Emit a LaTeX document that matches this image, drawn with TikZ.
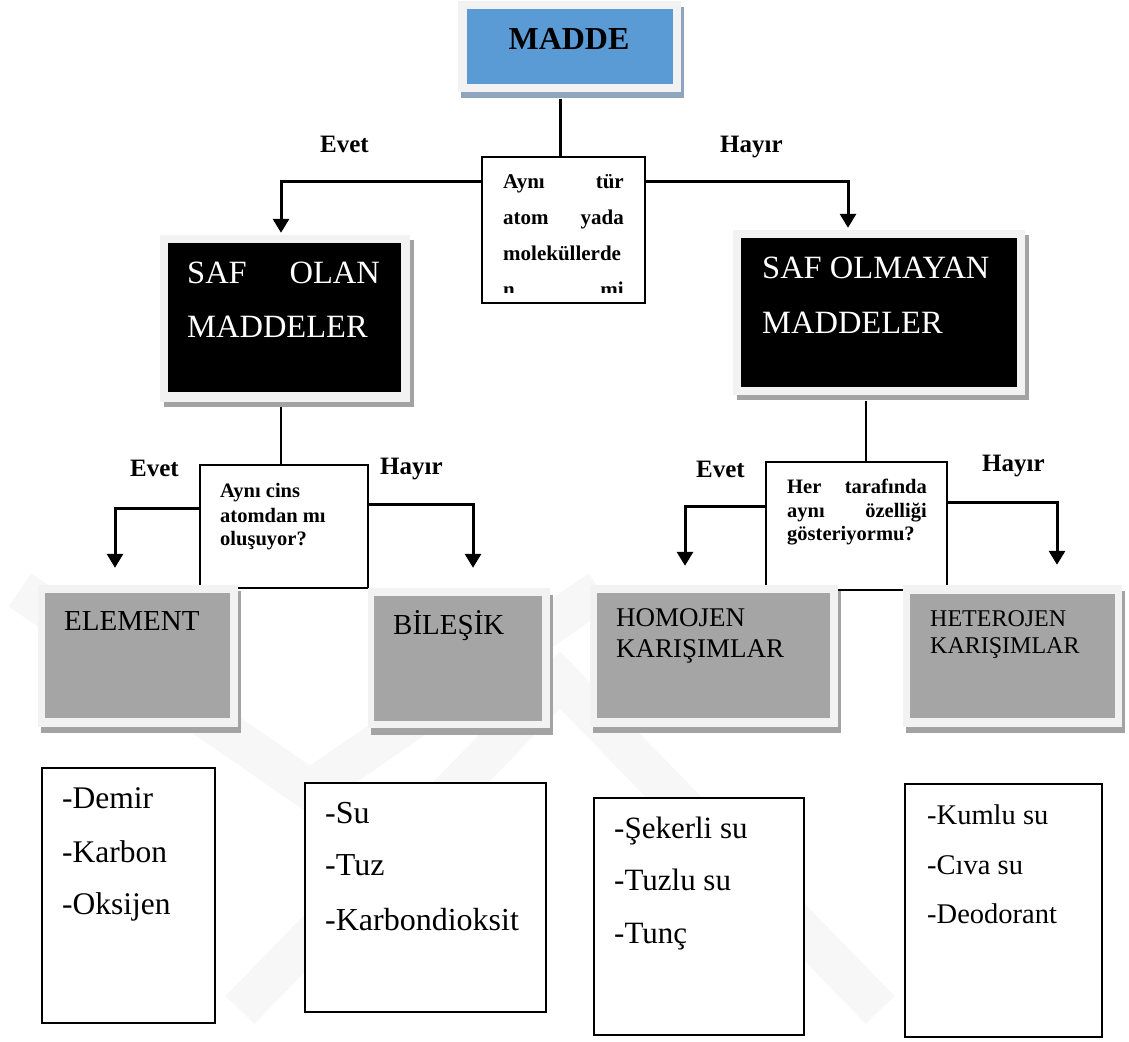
\documentclass[tikz,border=0pt]{standalone}
\usepackage{fontspec}
\setmainfont{Liberation Serif}
\usetikzlibrary{arrows.meta}

\definecolor{framegray}{HTML}{F2F2F2}
\definecolor{maddeblue}{HTML}{5B9BD5}
\definecolor{maddeshadow}{HTML}{8FA5BE}
\definecolor{boxshadow}{HTML}{A3A3A3}
\definecolor{panelgray}{HTML}{A5A5A5}
\definecolor{markgray}{HTML}{F7F7F7}

\begin{document}
\begin{tikzpicture}[x=1pt,y=-1pt,
  conn/.style={line width=3pt},
  thinconn/.style={line width=2pt},
  arr/.style={conn,-{Triangle[width=16pt,length=14pt]}},
  outerframe/.style={fill=framegray,inner sep=0,draw=none},
  innerpanel/.style={inner sep=0,draw=none},
  question/.style={draw=black,line width=1.6pt,fill=white,inner sep=0},
  listbox/.style={draw=black,line width=1.6pt,fill=white,inner sep=0},
  txt/.style={inner sep=0,anchor=base west},
  txtr/.style={inner sep=0,anchor=base east},
  qfont/.style={font=\bfseries\fontsize{20.5}{24}\selectfont},
  q1font/.style={font=\bfseries\fontsize{21}{24}\selectfont},
  lblfont/.style={font=\bfseries\fontsize{25}{30}\selectfont},
  bigwhite/.style={font=\fontsize{32.5}{38}\selectfont,text=white},
]
% canvas
\fill[white] (0,0) rectangle (1129,1041);
\useasboundingbox (0,0) rectangle (1129,1041);

% faint background emblem
\draw[markgray,line width=40pt] (20,590) -- (310,790) -- (600,590);
\draw[markgray,line width=40pt] (240,1010) -- (560,680) -- (880,1010);

% ---------- top: MADDE ----------
\fill[maddeshadow] (461,7) rectangle (684,98);
\node[outerframe,minimum width=223pt,minimum height=91pt] (madde) at (569.5,46.5) {};
\node[innerpanel,fill=maddeblue,minimum width=206pt,minimum height=75pt] (maddein) at (570,46.5) {};
\node[inner sep=0,anchor=base,font=\bfseries\fontsize{32}{38}\selectfont] (maddetxt) at (569,49) {MADDE};

% ---------- first question ----------
\node[question,minimum width=163pt,minimum height=146pt] (q1) at (563.5,230) {};
\begin{scope}
  \clip (483,158) rectangle (644,292);
  \node[txt,q1font] (q1a) at (503,188) {Aynı};
  \node[txtr,q1font] (q1b) at (624,188) {tür};
  \node[txt,q1font] (q1c) at (503,224) {atom};
  \node[txtr,q1font] (q1d) at (624,224) {yada};
  \node[txt,q1font] (q1e) at (503,260) {moleküllerde};
  \node[txt,q1font] (q1f) at (503,296) {n};
  \node[txtr,q1font] (q1g) at (624,296) {mi};
\end{scope}
\draw[conn] ([xshift=-9.5pt,yshift=-7pt]madde.south) -- ([xshift=-3.5pt]q1.north);

\node[txt,lblfont] (evet1) at (320,152) {Evet};
\node[txt,lblfont] (hayir1) at (720,152) {Hayır};

% ---------- black panels ----------
\fill[boxshadow] (164,240) rectangle (414,407);
\node[outerframe,minimum width=250pt,minimum height=167pt] (saf) at (285,318.5) {};
\node[innerpanel,fill=black,minimum width=233pt,minimum height=149pt] (safin) at (284.5,317.5) {};
\node[txt,bigwhite] (saf1) at (187,283) {SAF};
\node[txtr,bigwhite] (saf2) at (380,283) {OLAN};
\node[txt,bigwhite] (saf3) at (187,337) {MADDELER};

\fill[boxshadow] (737,235) rectangle (1029,400);
\node[outerframe,minimum width=292pt,minimum height=165pt] (safx) at (879,312.5) {};
\node[innerpanel,fill=black,minimum width=276pt,minimum height=149pt] (safxin) at (879,312.5) {};
\node[txt,bigwhite] (safx1) at (762,278) {SAF OLMAYAN};
\node[txt,bigwhite] (safx2) at (762,333) {MADDELER};

\draw[arr] ([yshift=49pt]q1.west) -| ([xshift=-4pt,yshift=2pt]saf.north);
\draw[arr] ([yshift=49pt]q1.east) -| ([xshift=-31pt,yshift=2pt]safx.north);

% ---------- second row of questions ----------
\node[question,minimum width=168pt,minimum height=123pt] (q2) at (284,526.5) {};
\node[txt,qfont] (q2a) at (220,497) {Aynı cins};
\node[txt,qfont] (q2b) at (220,522) {atomdan mı};
\node[txt,qfont] (q2c) at (220,545) {oluşuyor?};

\node[question,minimum width=181pt,minimum height=128pt] (q3) at (856.5,526) {};
\node[txt,qfont] (q3a) at (787,493) {Her};
\node[txtr,qfont] (q3b) at (927,493) {tarafında};
\node[txt,qfont] (q3c) at (787,517) {aynı};
\node[txtr,qfont] (q3d) at (927,517) {özelliği};
\node[txt,qfont] (q3e) at (787,540) {gösteriyormu?};

\draw[thinconn] ([xshift=-4pt,yshift=-5pt]saf.south) -- ([xshift=-3pt]q2.north);
\draw[thinconn] ([xshift=-13pt,yshift=-6pt]safx.south) -- ([xshift=9.5pt]q3.north);

\node[txt,lblfont] (evet2) at (130,476) {Evet};
\node[txt,lblfont] (hayir2) at (380,474) {Hayır};
\node[txt,lblfont] (evet3) at (696,477) {Evet};
\node[txt,lblfont] (hayir3) at (982,471) {Hayır};

% ---------- grey panels ----------
\fill[boxshadow] (41,591) rectangle (241,733);
\node[outerframe,minimum width=200pt,minimum height=142pt] (elem) at (138,656) {};
\node[innerpanel,fill=panelgray,minimum width=185pt,minimum height=125pt] (elemin) at (137.5,655.5) {};
\node[txt,font=\fontsize{29}{34}\selectfont] (elemtxt) at (64,630) {ELEMENT};

\fill[boxshadow] (371,595) rectangle (553,735);
\node[outerframe,minimum width=182pt,minimum height=140pt] (bil) at (459,658) {};
\node[innerpanel,fill=panelgray,minimum width=168pt,minimum height=125pt] (bilin) at (458,658.5) {};
\node[txt,font=\fontsize{29}{34}\selectfont] (biltxt) at (393,634) {BİLEŞİK};

\fill[boxshadow] (593,591) rectangle (841,733);
\node[outerframe,minimum width=248pt,minimum height=142pt] (homo) at (714,656) {};
\node[innerpanel,fill=panelgray,minimum width=233pt,minimum height=125pt] (homoin) at (713.5,655.5) {};
\node[txt,font=\fontsize{27}{32}\selectfont] (homo1) at (616,626) {HOMOJEN};
\node[txt,font=\fontsize{27}{32}\selectfont] (homo2) at (616,657) {KARIŞIMLAR};

\fill[boxshadow] (906,591) rectangle (1125,733);
\node[outerframe,minimum width=219pt,minimum height=142pt] (het) at (1012.5,656) {};
\node[innerpanel,fill=panelgray,minimum width=205pt,minimum height=124pt] (hetin) at (1012.5,656) {};
\node[txt,font=\fontsize{24}{29}\selectfont] (het1) at (930,626) {HETEROJEN};
\node[txt,font=\fontsize{24}{29}\selectfont] (het2) at (930,653) {KARIŞIMLAR};

\draw[arr] ([yshift=18.5pt]q2.west) -| ([xshift=-23pt,yshift=17pt]elem.north);
\draw[arr] ([yshift=22.5pt]q2.east) -| ([xshift=14pt,yshift=20pt]bil.north);
\draw[arr] ([yshift=20pt]q3.west) -| ([xshift=-29pt,yshift=19pt]homo.north);
\draw[arr] ([yshift=24pt]q3.east) -| ([xshift=44.5pt,yshift=20pt]het.north);

% ---------- example lists ----------
\node[listbox,minimum width=173pt,minimum height=255pt] (la) at (128.5,895.5) {};
\node[txt,font=\fontsize{31.5}{36}\selectfont] (la1) at (62,808) {-Demir};
\node[txt,font=\fontsize{31.5}{36}\selectfont] (la2) at (62,862) {-Karbon};
\node[txt,font=\fontsize{31.5}{36}\selectfont] (la3) at (62,914) {-Oksijen};

\node[listbox,minimum width=241pt,minimum height=229pt] (lb) at (425.5,897.5) {};
\node[txt,font=\fontsize{32}{36}\selectfont] (lb1) at (325,823) {-Su};
\node[txt,font=\fontsize{32}{36}\selectfont] (lb2) at (325,875) {-Tuz};
\node[txt,font=\fontsize{32}{36}\selectfont] (lb3) at (325,930) {-Karbondioksit};

\node[listbox,minimum width=210pt,minimum height=237pt] (lc) at (699,916.5) {};
\node[txt,font=\fontsize{31}{36}\selectfont] (lc1) at (614,838) {-Şekerli su};
\node[txt,font=\fontsize{31}{36}\selectfont] (lc2) at (614,890) {-Tuzlu su};
\node[txt,font=\fontsize{31}{36}\selectfont] (lc3) at (614,943) {-Tunç};

\node[listbox,minimum width=197pt,minimum height=253pt] (ld) at (1003.5,910.5) {};
\node[txt,font=\fontsize{28.5}{34}\selectfont] (ld1) at (927,824) {-Kumlu su};
\node[txt,font=\fontsize{28.5}{34}\selectfont] (ld2) at (927,874) {-Cıva su};
\node[txt,font=\fontsize{28.5}{34}\selectfont] (ld3) at (927,923) {-Deodorant};
\end{tikzpicture}
\end{document}
